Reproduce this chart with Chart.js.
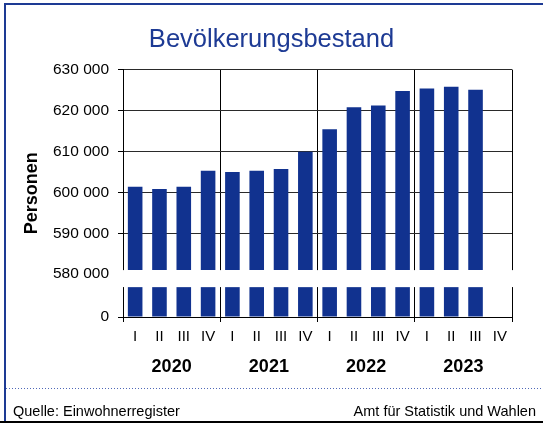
<!DOCTYPE html>
<html>
<head>
<meta charset="utf-8">
<script src="https://cdn.jsdelivr.net/npm/chart.js@4.4.0/dist/chart.umd.min.js"></script>
<style>
  body { margin: 0; background: #fff; }
  #wrap { position: relative; width: 543px; height: 423px; font-family: "Liberation Sans", Arial, sans-serif; }
  canvas { position: absolute; left: 0; top: 0; }
  .foot { position: absolute; top: 403px; font-size: 14.5px; color: #000; white-space: nowrap; }
</style>
</head>
<body>
<div id="wrap">
  <canvas id="chart" width="543" height="423"></canvas>
  <div class="foot" style="left:13px">Quelle: Einwohnerregister</div>
  <div class="foot" style="right:7px">Amt für Statistik und Wahlen</div>
</div>
<script>
const years = ["2020", "2021", "2022", "2023"];
const quarters = ["I", "II", "III", "IV", "I", "II", "III", "IV",
                  "I", "II", "III", "IV", "I", "II", "III", "IV"];
const population = [601400, 600800, 601400, 605300, 605000, 605300, 605700, 609900,
                    615400, 620800, 621200, 624800, 625400, 625800, 625100, null];
const yTicks = [580000, 590000, 600000, 610000, 620000, 630000];
const lowTicks = [0];

// axis break: upper part starts just above 580 000, lower part is a stub from 0
const TOP_MIN = 581000;
const TOP_MAX = 630000;
const LOW_MAX = 100000;

const BLUE = "#1d3a94";
const BAR = "#11328f";

Chart.defaults.font.family = '"Liberation Sans", Arial, sans-serif';
Chart.defaults.color = "#000";

const fmt = (v) => String(v).replace(/\B(?=(\d{3})+(?!\d))/g, " ");

const frame = {
  id: "frame",
  beforeDraw(chart) {
    const c = chart.ctx;
    c.save();
    c.fillStyle = "#fff";
    c.fillRect(0, 0, chart.width, chart.height);
    c.strokeStyle = BLUE;
    c.lineWidth = 2;
    c.beginPath();
    c.moveTo(4, 4);
    c.lineTo(543, 4);
    c.moveTo(5, 4);
    c.lineTo(5, 423);
    c.stroke();
    c.strokeStyle = "#000";
    c.beginPath();
    c.moveTo(0, 422);
    c.lineTo(543, 422);
    c.stroke();
    c.strokeStyle = "#5068b8";
    c.lineWidth = 1;
    c.setLineDash([1, 2]);
    c.beginPath();
    c.moveTo(6, 388.5);
    c.lineTo(543, 388.5);
    c.stroke();
    c.restore();
  },
  afterDraw(chart) {
    // blank out the break between the two parts of the y axis
    const gap = chart.scales.yGap;
    const a = chart.chartArea;
    const c = chart.ctx;
    c.save();
    c.fillStyle = "#fff";
    c.fillRect(a.left - 1, gap.top, a.right - a.left + 3, gap.bottom - gap.top);
    c.restore();
  },
};

// vertical lines only between years (and the closing line on the right)
const yearLine = (ctx) =>
  ctx.type !== "tick" || ctx.index % 4 === 0 ? "#000" : "rgba(0,0,0,0)";
const hideBreak = (col) => (ctx) =>
  ctx.tick && ctx.tick.value < TOP_MIN ? "rgba(0,0,0,0)" : col;

new Chart(document.getElementById("chart"), {
  type: "bar",
  data: {
    labels: quarters,
    datasets: [
      {
        data: population,
        yAxisID: "y",
        backgroundColor: BAR,
        grouped: false,
        barPercentage: 0.6,
        categoryPercentage: 1,
      },
      {
        data: population.map((v) => (v === null ? null : Math.min(v, LOW_MAX))),
        yAxisID: "y0",
        backgroundColor: BAR,
        grouped: false,
        barPercentage: 0.6,
        categoryPercentage: 1,
      },
    ],
  },
  options: {
    responsive: false,
    animation: false,
    devicePixelRatio: 1,
    layout: { padding: { top: 0, bottom: 36, left: 0, right: 0 } },
    plugins: {
      legend: { display: false },
      tooltip: { enabled: false },
      title: {
        display: true,
        text: "Bevölkerungsbestand",
        color: BLUE,
        font: { size: 25.5, weight: "normal" },
        padding: { top: 25, bottom: 14 },
      },
    },
    scales: {
      x: {
        type: "category",
        grid: {
          offset: true,
          color: yearLine,
          tickColor: yearLine,
          tickLength: 5,
        },
        border: { color: "#000" },
        ticks: { font: { size: 15 }, padding: 6, maxRotation: 0, autoSkip: false },
        afterFit: (s) => { s.height = 30; },
      },
      x2: {
        type: "category",
        labels: years,
        offset: true,
        position: "bottom",
        grid: { display: false },
        border: { display: false },
        ticks: { font: { size: 18, weight: "bold" }, padding: 1 },
        afterFit: (s) => { s.height = 40; },
      },
      y0: {
        position: "left",
        stack: "v",
        stackWeight: 30,
        min: 0,
        max: LOW_MAX,
        afterBuildTicks: (s) => { s.ticks = lowTicks.map((v) => ({ value: v })); },
        ticks: { callback: fmt, padding: 9, font: { size: 15.5 }, autoSkip: false },
        grid: { color: "#000", tickColor: "#000", tickLength: 5, drawOnChartArea: false },
        border: { color: "#000" },
        afterFit: (s) => { s.width = 73; },
      },
      yGap: {
        position: "left",
        stack: "v",
        stackWeight: 17,
        ticks: { display: false },
        grid: { display: false },
        border: { display: false },
        afterFit: (s) => { s.width = 0; },
      },
      y: {
        position: "left",
        stack: "v",
        stackWeight: 201,
        min: TOP_MIN,
        max: TOP_MAX,
        afterBuildTicks: (s) => { s.ticks = yTicks.map((v) => ({ value: v })); },
        ticks: { callback: fmt, padding: 9, font: { size: 15.5 }, autoSkip: false },
        grid: { color: hideBreak("#2a2a2a"), tickColor: hideBreak("#000"), tickLength: 5 },
        border: { color: "#000" },
        afterFit: (s) => { s.width = 73; },
      },
      yTitle: {
        position: "left",
        ticks: { display: false },
        grid: { display: false },
        border: { display: false },
        title: {
          display: true,
          text: "Personen",
          font: { size: 18, weight: "bold" },
          padding: { top: 21, bottom: 0 },
        },
        afterFit: (s) => { s.width = 50; },
      },
      yRight: {
        position: "right",
        ticks: { display: false },
        grid: { display: false },
        border: { display: false },
        afterFit: (s) => { s.width = 31; },
      },
    },
  },
  plugins: [frame],
});
</script>
</body>
</html>
